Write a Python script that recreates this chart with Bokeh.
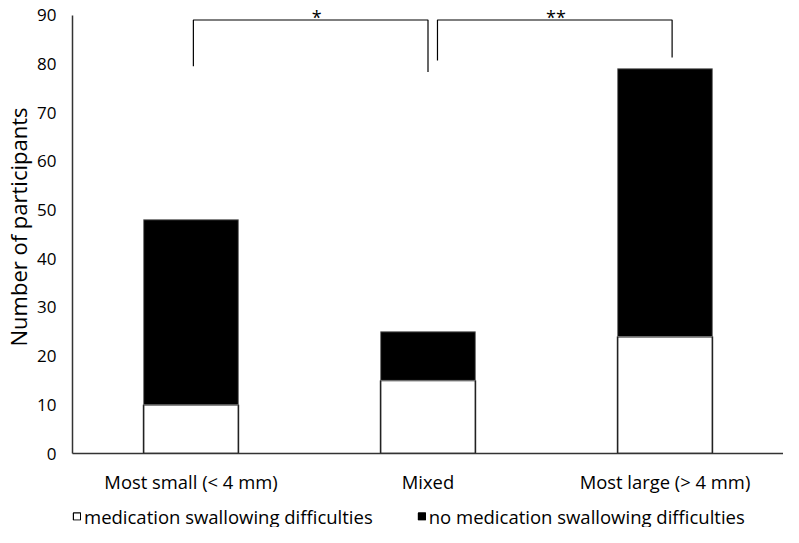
from bokeh.plotting import figure
from bokeh.layouts import column
from bokeh.models import FixedTicker, Range1d, Legend, LegendItem, ColumnDataSource
from bokeh.core.properties import value
from bokeh.embed import file_html
from bokeh.resources import INLINE

# ---- data ----
categories = ["Most small (< 4 mm)", "Mixed", "Most large (> 4 mm)"]
with_difficulties = [10, 15, 24]
without_difficulties = [38, 10, 55]
series_labels = ["medication swallowing difficulties", "no medication swallowing difficulties"]
series_colors = ["white", "black"]
y_ticks = [0, 10, 20, 30, 40, 50, 60, 70, 80, 90]

# significance brackets (x in category units, y in data units)
bracket_xs = [[0.51, 0.51, 1.5, 1.5], [1.54, 1.54, 2.53, 2.53]]
bracket_ys = [[79.5, 89, 89, 78.3], [80.7, 89, 89, 81.3]]
star_x = [1.03, 2.04]
star_y = [89.6, 89.6]
star_text = ["*", "**"]

FONT = "Open Sans"
x_centers = [i + 0.5 for i in range(len(categories))]

src = ColumnDataSource(dict(x=x_centers, a=with_difficulties, b=without_difficulties))

p = figure(width=783, height=505, output_backend="svg", toolbar_location=None,
           x_range=Range1d(0, 3), y_range=Range1d(0, 93),
           min_border_left=60, min_border_right=0, min_border_top=0, min_border_bottom=52)

rs = p.vbar_stack(["a", "b"], x="x", width=0.4, source=src,
                  fill_color=series_colors, line_color=["#222222", "#777777"],
                  line_width=[1.6, 1])

p.multi_line(xs=bracket_xs, ys=bracket_ys, line_color="black", line_width=1.2)
p.text(x=star_x, y=star_y, text=star_text, text_align="center", text_baseline="alphabetic",
       text_font=value(FONT), text_font_size="18px", text_color="black")

p.xgrid.visible = False
p.ygrid.visible = False
p.outline_line_color = None
p.background_fill_color = "white"

p.xaxis.ticker = FixedTicker(ticks=x_centers)
p.xaxis.major_label_overrides = {x: c for x, c in zip(x_centers, categories)}
p.xaxis.major_tick_line_color = None
p.xaxis.minor_tick_line_color = None
p.xaxis.axis_line_color = "#333333"
p.xaxis.axis_line_width = 1.5
p.xaxis.major_label_standoff = 9
p.xaxis.major_label_text_font = FONT
p.xaxis.major_label_text_font_size = "18.4px"
p.xaxis.major_label_text_color = "black"

p.yaxis.ticker = FixedTicker(ticks=y_ticks)
p.yaxis.bounds = (0, 90)
p.yaxis.major_tick_line_color = None
p.yaxis.minor_tick_line_color = None
p.yaxis.axis_line_color = "#333333"
p.yaxis.axis_line_width = 1.5
p.yaxis.major_label_standoff = 10
p.yaxis.major_label_text_font = FONT
p.yaxis.major_label_text_font_size = "17px"
p.yaxis.major_label_text_color = "black"
p.yaxis.axis_label = "Number of participants"
p.yaxis.axis_label_text_font = FONT
p.yaxis.axis_label_text_font_size = "22px"
p.yaxis.axis_label_text_font_style = "normal"
p.yaxis.axis_label_text_color = "black"
p.yaxis.axis_label_standoff = 1

# legend strip below the chart
p2 = figure(width=783, height=22, output_backend="svg", toolbar_location=None,
            x_range=Range1d(0, 1), y_range=Range1d(0, 1),
            x_axis_type=None, y_axis_type=None,
            min_border_left=35, min_border_right=0, min_border_top=0, min_border_bottom=0)
p2.xgrid.visible = False
p2.ygrid.visible = False
p2.outline_line_color = None
lr = []
for col in series_colors:
    # legend proxies, placed below the visible y range so only their legend swatch shows
    lr.append(p2.vbar(x=[0.5], top=[-5], bottom=[-6], width=0.1,
                      fill_color=col, line_color="black", line_width=1.2))

legend = Legend(items=[LegendItem(label=lab, renderers=[r]) for lab, r in zip(series_labels, lr)],
                orientation="horizontal", location="left",
                label_text_font=FONT, label_text_font_size="18.5px", label_text_color="black",
                glyph_width=9, glyph_height=9, spacing=44, label_standoff=3,
                border_line_color=None, background_fill_alpha=0,
                margin=0, padding=0)
p2.add_layout(legend, "center")

layout = column(p, p2, spacing=0)
open("out.html", "w").write(file_html(layout, INLINE))
